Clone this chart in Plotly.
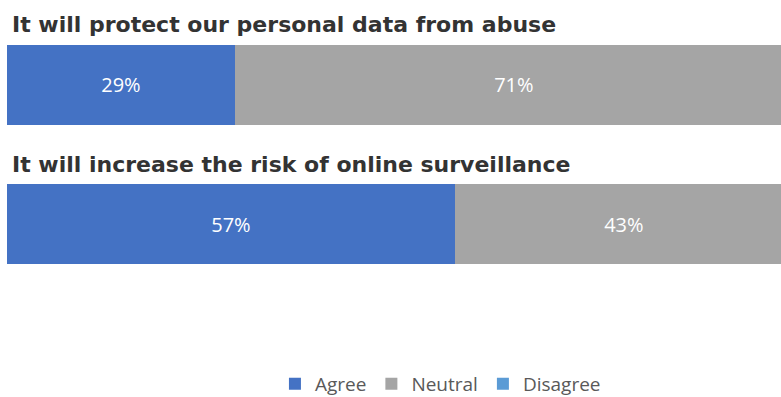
import plotly.graph_objects as go

# Survey statements and response shares (%)
statements = [
    "It will protect our personal data from abuse",
    "It will increase the risk of online surveillance",
]
agree = [29, 57]
neutral = [71, 43]
disagree = [0, 0]

series = [
    ("Agree", agree, "#4472C4"),
    ("Neutral", neutral, "#A5A5A5"),
    ("Disagree", disagree, "#5B9BD5"),
]

fig = go.Figure()
for name, vals, color in series:
    fig.add_trace(go.Bar(
        y=statements,
        x=vals,
        name=name,
        orientation="h",
        marker=dict(color=color, line=dict(width=0)),
        text=[f"{v}%" if v > 0 else "" for v in vals],
        textposition="inside",
        insidetextanchor="middle",
        textfont=dict(family="Open Sans", size=20, color="white"),
        width=0.57,
        hoverinfo="skip",
    ))

# Statement headings above each bar
for s in statements:
    fig.add_annotation(
        x=0, xref="paper", xanchor="left", xshift=3,
        y=s, yref="y", yanchor="middle", yshift=60,
        text=f"<b>{s}</b>", showarrow=False,
        font=dict(family="DejaVu Sans", size=22, color="#333333"),
    )

fig.update_layout(
    width=781, height=397,
    barmode="stack",
    paper_bgcolor="white", plot_bgcolor="white",
    margin=dict(l=7, r=0, t=15, b=103),
    xaxis=dict(range=[0, 98.5], visible=False, fixedrange=True),
    yaxis=dict(range=[1.5, -0.5], autorange=False, showticklabels=False,
               showgrid=False, zeroline=False, showline=False),
    legend=dict(
        orientation="h", traceorder="normal",
        xanchor="center", x=0.56,
        yref="container", y=0.033, yanchor="middle",
        font=dict(family="Open Sans", size=19, color="#595959"),
        itemclick=False, itemdoubleclick=False,
    ),
    showlegend=True,
)

fig.write_html("out.html")
